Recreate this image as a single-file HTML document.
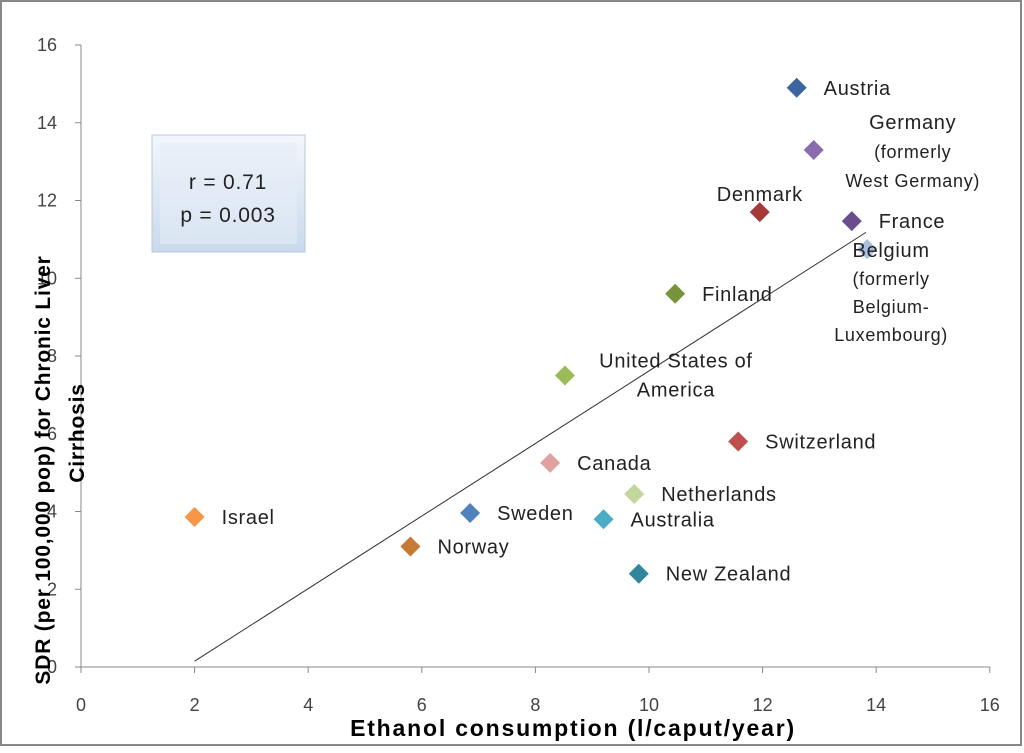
<!DOCTYPE html>
<html><head><meta charset="utf-8"><style>
body{margin:0;background:#fff;}
svg text{font-family:"Liberation Sans",sans-serif;}
</style></head><body>
<svg width="1024" height="748" xmlns="http://www.w3.org/2000/svg">
<defs><linearGradient id="g" x1="0" y1="0" x2="0" y2="1"><stop offset="0" stop-color="#f3f7fc"/><stop offset="1" stop-color="#c9d9ec"/></linearGradient></defs>
<rect x="1" y="1" width="1020" height="744" fill="#fff" stroke="#888" stroke-width="2"/>
<g id="axes"></g>
<g id="marks"></g>
<g>
<rect x="152" y="135" width="153" height="117" fill="url(#g)" stroke="#b8c8dc"/>
<rect x="160" y="143" width="137" height="101" fill="#e4ecf6" opacity="0.6"/>
<text x="228" y="189" font-size="21" letter-spacing="0.8" text-anchor="middle" fill="#222">r = 0.71</text>
<text x="228" y="222" font-size="21" letter-spacing="0.8" text-anchor="middle" fill="#222">p = 0.003</text>
</g>
<text x="573" y="736" font-size="23" letter-spacing="1.8" font-weight="bold" text-anchor="middle" fill="#000">Ethanol consumption (l/caput/year)</text>
<g transform="translate(50,470) rotate(-90)">
<text x="0" y="0" font-size="21" letter-spacing="0.8" font-weight="bold" text-anchor="middle">SDR (per 100,000 pop) for Chronic Liver</text>
<text x="37" y="34" font-size="21" letter-spacing="0.8" font-weight="bold" text-anchor="middle">Cirrhosis</text>
</g>
<script>
const xTicks=[0,2,4,6,8,10,12,14,16];
const yTicks=[0,2,4,6,8,10,12,14,16];
const countries=["Austria","Germany","Denmark","France","Belgium","Finland","United States of America","Switzerland","Canada","Netherlands","Israel","Sweden","Australia","Norway","New Zealand"];
const consumption=[12.6,12.9,11.95,13.57,13.84,10.46,8.52,11.57,8.26,9.74,2.0,6.85,9.2,5.8,9.82];
const sdr=[14.9,13.3,11.7,11.47,10.75,9.6,7.5,5.8,5.25,4.45,3.86,3.96,3.8,3.1,2.4];
const colors=["#3c64a0","#8a6bb0","#a5393a","#6b4c8c","#a8bfe0","#77933c","#9bbb59","#c0504d","#e0a2a0","#c3d69b","#f79646","#4f81bd","#4bacc6","#c77a34","#31859c"];
const trendX=[2.0,13.82];const trendY=[0.15,11.18];
const X=v=>81+v*56.8, Y=v=>667-v*38.875;
const ns="http://www.w3.org/2000/svg";
const ax=document.getElementById('axes'),mk=document.getElementById('marks');
function el(t,a,p){const e=document.createElementNS(ns,t);for(const k in a)e.setAttribute(k,a[k]);p.appendChild(e);return e;}
let l=el('line',{x1:X(0),y1:Y(0),x2:X(16),y2:Y(0),stroke:'#888'},ax);


l=el('line',{x1:X(0),y1:Y(0),x2:X(0),y2:Y(16),stroke:'#888'},ax);


xTicks.forEach(v=>{el('line',{x1:X(v),y1:Y(0),x2:X(v),y2:Y(0)+6,stroke:'#888'},ax);
const t=el('text',{x:X(v),y:711,'font-size':18,'text-anchor':'middle',fill:'#444'},ax);t.textContent=v;

});
yTicks.forEach(v=>{el('line',{x1:X(0)-6,y1:Y(v),x2:X(0),y2:Y(v),stroke:'#888'},ax);
const t=el('text',{x:57,y:Y(v)+6,'font-size':18,'text-anchor':'end',fill:'#444'},ax);t.textContent=v;

});
const tl=el('line',{x1:X(trendX[0]),y1:Y(trendY[0]),x2:X(trendX[1]),y2:Y(trendY[1]),stroke:'#333','stroke-width':1},mk);


const lab={"Germany":["Germany","(formerly","West Germany)"],"Belgium":["Belgium","(formerly","Belgium-","Luxembourg)"],"United States of America":["United States of","America"]};
countries.forEach((c,i)=>{const cx=X(consumption[i]),cy=Y(sdr[i]);
const p=el('polygon',{points:`${cx},${cy-10} ${cx+10},${cy} ${cx},${cy+10} ${cx-10},${cy}`,fill:colors[i]},mk);


const lines=lab[c]||[c];
lines.forEach((s,j)=>{
const t=el('text',{x:cx+27,y:cy+7,'font-size':20,'letter-spacing':0.7,'text-anchor':'start',fill:'#222'},mk);
if(c==="Denmark"){t.setAttribute('x',cx);t.setAttribute('y',cy-11);t.setAttribute('text-anchor','middle');}
if(c==="United States of America"){t.setAttribute('x',cx+111);t.setAttribute('y',cy-8+j*29);t.setAttribute('text-anchor','middle');}
if(c==="Germany"){t.setAttribute('x',cx+99);t.setAttribute('font-size',j?18:20);t.setAttribute('y',cy-21+j*29);t.setAttribute('text-anchor','middle');}
if(c==="Belgium"){t.setAttribute('x',cx+24);t.setAttribute('font-size',j?18:20);t.setAttribute('y',cy+8+j*28);t.setAttribute('text-anchor','middle');}
t.textContent=s;

});});
</script>
</svg>
</body></html>
